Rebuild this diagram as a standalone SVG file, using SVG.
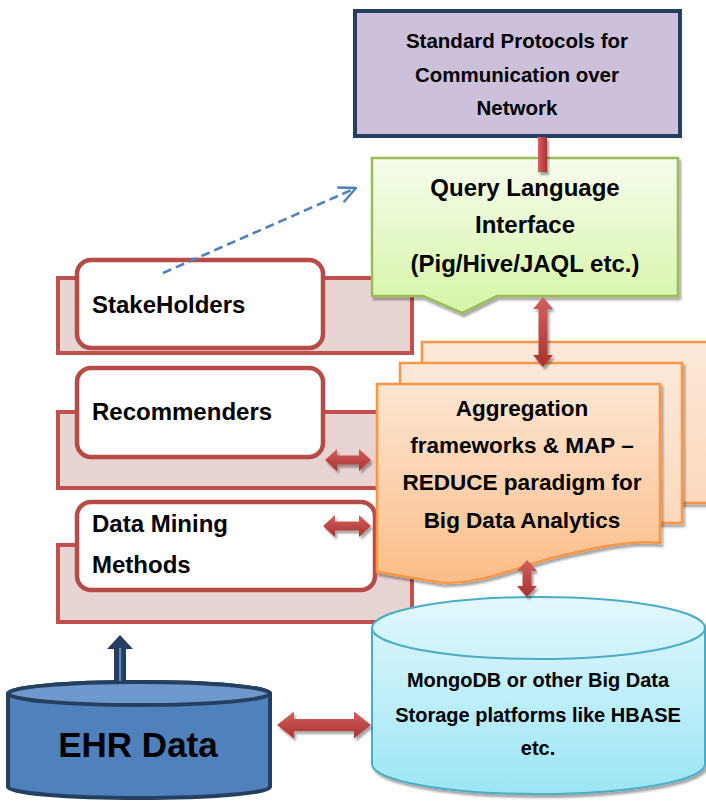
<svg xmlns="http://www.w3.org/2000/svg" width="706" height="803" viewBox="0 0 706 803">
  <defs>
    <style>
      text { font-family: "Liberation Sans", Arial, sans-serif; font-weight: bold; fill: #000; }
      .ctr { text-anchor: middle; }
      .panel-back { fill: #E8D4D3; stroke: #C0504D; stroke-width: 4; }
      .panel-front { fill: #FFFFFF; stroke: #B64B48; stroke-width: 4.5; }
      .redarrow { fill: url(#gRed); filter: url(#shadow); }
      .sheet { stroke: #F79646; stroke-width: 2.5; }
    </style>
    <filter id="shadow" x="-20%" y="-20%" width="150%" height="150%">
      <feDropShadow dx="2" dy="3" stdDeviation="1.2" flood-color="#000" flood-opacity="0.35"/>
    </filter>
    <linearGradient id="gGreen" x1="0" y1="0" x2="0" y2="1">
      <stop offset="0" stop-color="#F5FCEC"/>
      <stop offset="1" stop-color="#D6F5A6"/>
    </linearGradient>
    <linearGradient id="gOrangeFront" x1="0" y1="0" x2="0" y2="1">
      <stop offset="0" stop-color="#FDE6D3"/>
      <stop offset="1" stop-color="#FBBD88"/>
    </linearGradient>
    <linearGradient id="gOrangeBack" x1="0" y1="0" x2="0" y2="1">
      <stop offset="0" stop-color="#FDE9D9"/>
      <stop offset="1" stop-color="#FCD8BC"/>
    </linearGradient>
    <linearGradient id="gCyan" x1="0" y1="0" x2="0" y2="1">
      <stop offset="0" stop-color="#E2F8FD"/>
      <stop offset="1" stop-color="#9CE5F5"/>
    </linearGradient>
    <linearGradient id="gRed" x1="0" y1="0" x2="0" y2="1">
      <stop offset="0" stop-color="#D2615E"/>
      <stop offset="1" stop-color="#A9322F"/>
    </linearGradient>
    <linearGradient id="gRedV" x1="0" y1="0" x2="1" y2="0">
      <stop offset="0" stop-color="#D2615E"/>
      <stop offset="1" stop-color="#A9322F"/>
    </linearGradient>
    <marker id="openHead" viewBox="0 0 20 20" refX="19" refY="10" markerWidth="20" markerHeight="20" markerUnits="userSpaceOnUse" orient="auto">
      <path d="M2,2 L19,10 L2,18" fill="none" stroke="#4F81BD" stroke-width="2.4"/>
    </marker>
  </defs>

  <!-- left-hand layered panels -->
  <g id="stakeholders">
    <rect class="panel-back" x="58" y="278" width="354" height="75"/>
    <rect class="panel-front" x="77" y="260" width="246" height="88" rx="14"/>
    <text x="92" y="313" font-size="24">StakeHolders</text>
  </g>
  <g id="recommenders">
    <rect class="panel-back" x="58" y="412" width="354" height="76"/>
    <rect class="panel-front" x="77" y="368" width="246" height="89" rx="14"/>
    <text x="92" y="420" font-size="24">Recommenders</text>
  </g>
  <g id="data-mining">
    <rect class="panel-back" x="58" y="545" width="354" height="77"/>
    <rect class="panel-front" x="77" y="502" width="298" height="88" rx="14"/>
    <text x="92" y="532" font-size="24">Data Mining</text>
    <text x="92" y="573" font-size="24">Methods</text>
  </g>

  <!-- protocol layer -->
  <g id="protocols">
    <rect x="355" y="11" width="325" height="125" fill="#CCC0DA" stroke="#243F60" stroke-width="4"/>
    <text class="ctr" x="517" y="48" font-size="20.5">Standard Protocols for</text>
    <text class="ctr" x="517" y="82" font-size="20.5">Communication over</text>
    <text class="ctr" x="517" y="115" font-size="20.5">Network</text>
  </g>

  <!-- query language callout -->
  <g id="query-language">
    <path d="M372,158 H678 V296 H497 L462,313 L423,296 H372 Z" fill="url(#gGreen)" stroke="#9BBB59" stroke-width="2.5" filter="url(#shadow)"/>
    <text class="ctr" x="525" y="196" font-size="24">Query Language</text>
    <text class="ctr" x="525" y="233" font-size="24">Interface</text>
    <text class="ctr" x="525" y="272" font-size="24">(Pig/Hive/JAQL etc.)</text>
  </g>

  <!-- aggregation / map-reduce multi-document -->
  <g id="aggregation">
    <rect class="sheet" x="422" y="342" width="290" height="161" fill="url(#gOrangeBack)" filter="url(#shadow)"/>
    <rect class="sheet" x="400" y="363" width="282" height="160" fill="url(#gOrangeBack)" filter="url(#shadow)"/>
    <path class="sheet" d="M377,384 H660 V543 C630,540 600,547 560,556 C520,565 490,583 443,583 L377,572 Z" fill="url(#gOrangeFront)" filter="url(#shadow)"/>
    <text class="ctr" x="522" y="416" font-size="22.5">Aggregation</text>
    <text class="ctr" x="522" y="453" font-size="22.5">frameworks &amp; MAP –</text>
    <text class="ctr" x="522" y="490" font-size="22.5">REDUCE paradigm for</text>
    <text class="ctr" x="522" y="528" font-size="22.5">Big Data Analytics</text>
  </g>

  <!-- big data storage cylinder -->
  <g id="storage">
    <path d="M372,628 A166.5,31 0 0 1 705,628 V764 A166.5,30 0 0 1 372,764 Z" fill="url(#gCyan)" stroke="#4BACC6" stroke-width="2" filter="url(#shadow)"/>
    <path d="M372,628 A166.5,31 0 0 0 705,628" fill="none" stroke="#4BACC6" stroke-width="2"/>
    <text class="ctr" x="538" y="687" font-size="20">MongoDB or other Big Data</text>
    <text class="ctr" x="538" y="722" font-size="20">Storage platforms like HBASE</text>
    <text class="ctr" x="538" y="755" font-size="20">etc.</text>
  </g>

  <!-- EHR data cylinder -->
  <g id="ehr-data">
    <path d="M8,693.5 A131,11.5 0 0 1 270,693.5 V787 A131,11 0 0 1 8,787 Z" fill="#4F81BD" stroke="#243F60" stroke-width="4"/>
    <ellipse cx="139" cy="693.5" rx="131" ry="11.5" fill="#6F98CC" stroke="#243F60" stroke-width="4"/>
    <text class="ctr" x="138" y="757" font-size="35">EHR Data</text>
  </g>

  <!-- connectors -->
  <g id="connectors">
    <!-- protocols to query language -->
    <rect x="538" y="137" width="9" height="35" fill="url(#gRedV)" filter="url(#shadow)"/>
    <!-- query language <-> aggregation -->
    <polygon class="redarrow" points="543,297 553,309 547.5,309 547.5,355 553,355 543,367 533,355 538.5,355 538.5,309 533,309"/>
    <!-- aggregation <-> storage -->
    <polygon class="redarrow" points="527,560 537,571 531.5,571 531.5,586 537,586 527,597 517,586 522.5,586 522.5,571 517,571"/>
    <!-- recommenders <-> aggregation -->
    <polygon class="redarrow" points="325,460 337,449 337,455.5 359,455.5 359,449 371,460 359,471 359,464.5 337,464.5 337,471"/>
    <!-- data mining <-> aggregation -->
    <polygon class="redarrow" points="323,526 335,515 335,521.5 359,521.5 359,515 371,526 359,537 359,530.5 335,530.5 335,537"/>
    <!-- EHR data <-> storage -->
    <polygon class="redarrow" points="277,725 294,711.5 294,719 354,719 354,711.5 371,725 354,738.5 354,731 294,731 294,738.5"/>
    <!-- EHR data up to analysis panels -->
    <polygon points="120,635 133,649 126,649 126,682 114,682 114,649 107,649" fill="#243F60"/>
    <rect x="119" y="648" width="2.2" height="33" fill="#5B8BC6"/>
    <!-- stakeholders to query language -->
    <line x1="163" y1="273" x2="356" y2="188" stroke="#4F81BD" stroke-width="2.6" stroke-dasharray="9,5" marker-end="url(#openHead)"/>
  </g>
</svg>
